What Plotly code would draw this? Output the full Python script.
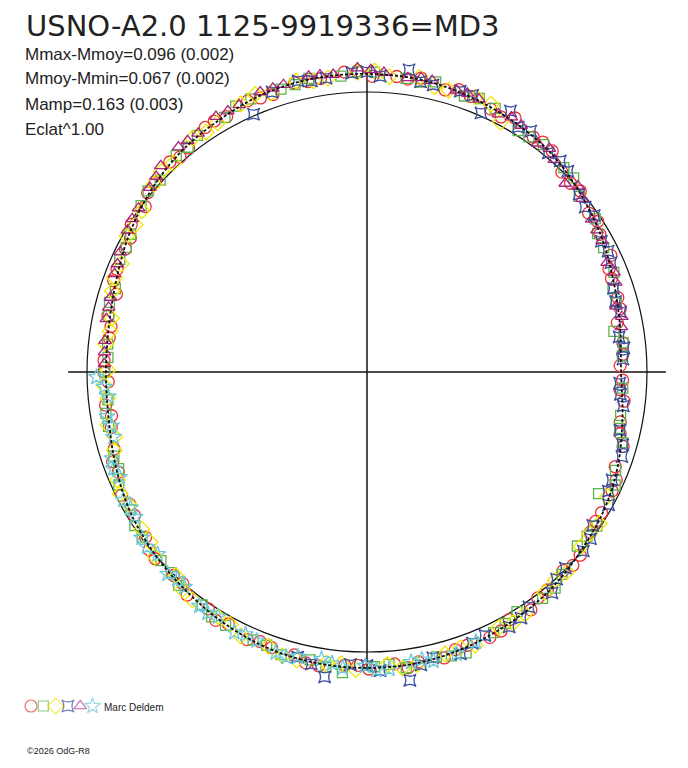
import numpy as np
import plotly.graph_objects as go

# USNO-A2.0 1125-9919336 = MD3, polar light curve (phase -> angle, delta mag -> radius)
title_text = "USNO-A2.0 1125-9919336=MD3"
info_lines = ["Mmax-Mmoy=0.096 (0.002)", "Mmoy-Mmin=0.067 (0.002)",
              "Mamp=0.163 (0.003)", "Eclat^1.00"]
observer = "Marc Deldem"
credit = "\u00a92026 OdG-R8"

R0 = 1.037      # radius of mean magnitude circle (mag units)
AXIS_HALF = 1.107

red_phase = [0.004, 0.018, 0.031, 0.046, 0.058, 0.071, 0.085, 0.099, 0.112, 0.127,
             0.139, 0.152, 0.166, 0.180, 0.193, 0.207, 0.221, 0.234, 0.247, 0.262,
             0.275, 0.289, 0.302, 0.316, 0.330, 0.343, 0.357, 0.370, 0.384, 0.398,
             0.411, 0.425, 0.438, 0.452, 0.466, 0.479, 0.493, 0.506, 0.520, 0.534,
             0.547, 0.561, 0.574, 0.588, 0.602, 0.615, 0.629, 0.642, 0.656, 0.670,
             0.683, 0.697, 0.710, 0.724, 0.738, 0.751, 0.765, 0.778, 0.792, 0.806,
             0.819, 0.833, 0.846, 0.860, 0.874, 0.887, 0.901, 0.914, 0.928, 0.942,
             0.955, 0.969, 0.982, 0.995,
             0.011, 0.039, 0.064, 0.092, 0.119, 0.146, 0.173, 0.200, 0.228, 0.255,
             0.282, 0.309, 0.337, 0.364, 0.391, 0.418, 0.445, 0.472, 0.500, 0.527,
             0.554, 0.581, 0.609, 0.636, 0.663, 0.690, 0.717, 0.745, 0.772, 0.799,
             0.826, 0.853, 0.880, 0.908, 0.935, 0.962, 0.989]
red_dm = [0.099, 0.083, 0.092, 0.068, 0.068, 0.036, 0.035, 0.027, 0.001, 0.003,
          -0.031, -0.029, -0.052, -0.039, -0.053, -0.047, -0.070, -0.063, -0.058, -0.077,
          -0.063, -0.067, -0.048, -0.060, -0.042, -0.049, -0.024, -0.030, -0.016, 0.012,
          0.007, 0.033, 0.036, 0.065, 0.055, 0.074, 0.062, 0.078, 0.061, 0.068,
          0.058, 0.044, 0.020, 0.025, 0.014, -0.009, -0.003, -0.024, -0.019, -0.028,
          -0.049, -0.043, -0.045, -0.066, -0.052, -0.063, -0.049, -0.054, -0.060, -0.041,
          -0.046, -0.021, -0.033, -0.011, 0.003, -0.004, 0.019, 0.024, 0.028, 0.053,
          0.049, 0.081, 0.079, 0.090,
          0.087, 0.070, 0.063, 0.017, 0.009, -0.035, -0.030, -0.063, -0.058, -0.079,
          -0.061, -0.052, -0.051, -0.018, -0.012, 0.030, 0.040, 0.074, 0.062, 0.077,
          0.038, 0.031, -0.004, -0.002, -0.040, -0.037, -0.064, -0.050, -0.069, -0.042,
          -0.043, -0.012, -0.009, 0.025, 0.031, 0.072, 0.098]

green_phase = [0.010, 0.026, 0.043, 0.061, 0.077, 0.094, 0.110, 0.128, 0.145, 0.161,
               0.178, 0.196, 0.213, 0.229, 0.246, 0.264, 0.281, 0.297, 0.314, 0.331,
               0.349, 0.365, 0.381, 0.399, 0.416, 0.432, 0.449, 0.466, 0.483, 0.500,
               0.517, 0.533, 0.551, 0.568, 0.584, 0.601, 0.618, 0.635, 0.652, 0.669,
               0.686, 0.703, 0.719, 0.737, 0.754, 0.771, 0.788, 0.804, 0.822, 0.839,
               0.855, 0.872, 0.890, 0.906, 0.923, 0.940, 0.957, 0.973, 0.990,
               0.018, 0.052, 0.086, 0.120, 0.154, 0.188, 0.221, 0.255, 0.289, 0.323,
               0.357, 0.390, 0.424, 0.458, 0.491, 0.525, 0.559, 0.593, 0.627, 0.660,
               0.694, 0.728, 0.762, 0.796, 0.830, 0.864, 0.898, 0.932, 0.965]
green_dm = [0.089, 0.110, 0.079, 0.051, 0.047, 0.019, 0.017, -0.014, -0.029, -0.018,
            -0.049, -0.047, -0.067, -0.060, -0.074, -0.063, -0.071, -0.058, -0.062, -0.043,
            -0.041, -0.031, -0.008, -0.002, 0.024, 0.031, 0.055, 0.058, 0.071, 0.066,
            0.072, 0.059, 0.049, 0.027, 0.023, 0.003, 0.002, -0.017, -0.020, -0.038,
            -0.041, -0.057, -0.050, -0.080, -0.055, -0.068, -0.049, -0.066, -0.036, -0.010,
            -0.024, -0.004, 0.026, 0.012, 0.068, 0.047, 0.055, 0.084, 0.088,
            0.082, 0.075, 0.041, -0.013, -0.020, -0.058, -0.055, -0.076, -0.060, -0.061,
            -0.027, -0.015, 0.033, 0.049, 0.076, 0.058, 0.050, 0.006, -0.001, -0.037,
            -0.041, -0.067, -0.049, -0.060, -0.026, -0.024, 0.020, 0.027, 0.078]

yellow_phase = [0.172, 0.190, 0.205, 0.222, 0.238, 0.255, 0.271, 0.288, 0.303, 0.320,
                0.336, 0.352, 0.369, 0.385, 0.401, 0.418, 0.434, 0.451, 0.467, 0.483,
                0.499, 0.516, 0.532, 0.548, 0.565, 0.581, 0.597, 0.614, 0.630, 0.646,
                0.663, 0.679, 0.695, 0.712, 0.728, 0.744, 0.761, 0.777, 0.793, 0.810,
                0.826, 0.842, 0.858, 0.875, 0.891, 0.908, 0.924,
                0.181, 0.213, 0.246, 0.279, 0.311, 0.344, 0.377, 0.410, 0.443, 0.475,
                0.508, 0.540, 0.573, 0.606, 0.638, 0.671, 0.704, 0.736, 0.769, 0.802,
                0.834, 0.867, 0.900]
yellow_dm = [-0.012, -0.058, -0.050, -0.071, -0.060, -0.074, -0.061, -0.072, -0.056, -0.060,
             -0.039, -0.043, -0.018, -0.015, 0.012, 0.015, 0.043, 0.047, 0.070, 0.063,
             0.077, 0.072, 0.058, 0.057, 0.030, 0.028, 0.020, -0.004, 0.003, -0.026,
             -0.024, -0.047, -0.042, -0.061, -0.051, -0.066, -0.050, -0.062, -0.047, -0.052,
             -0.028, -0.033, -0.012, -0.010, 0.014, 0.010, 0.034,
             -0.056, -0.049, -0.078, -0.059, -0.071, -0.032, -0.027, 0.020, 0.038, 0.074,
             0.061, 0.072, 0.018, 0.016, -0.020, -0.026, -0.060, -0.048, -0.067, -0.041,
             -0.038, -0.003, 0.018]

blue_phase = [0.712, 0.728, 0.741, 0.757, 0.772, 0.786, 0.801, 0.817, 0.831, 0.846,
              0.861, 0.876, 0.890, 0.905, 0.920, 0.934, 0.949, 0.964, 0.979, 0.993,
              0.008, 0.022, 0.037, 0.052, 0.067, 0.081, 0.096, 0.111, 0.125, 0.140,
              0.155, 0.170, 0.184, 0.199, 0.214, 0.228, 0.243, 0.258, 0.272, 0.287,
              0.302, 0.316,
              0.720, 0.750, 0.779, 0.809, 0.839, 0.868, 0.898, 0.927, 0.956, 0.986,
              0.015, 0.044, 0.074, 0.103, 0.132, 0.162, 0.192, 0.221, 0.250, 0.280]
blue_dm = [-0.050, -0.103, -0.048, -0.070, -0.116, -0.049, -0.063, -0.032, -0.044, -0.020,
           -0.030, 0.004, -0.003, 0.026, 0.016, 0.045, 0.042, 0.076, 0.079, 0.100,
           0.088, 0.094, 0.072, 0.073, 0.047, 0.043, 0.015, 0.012, -0.015, -0.016,
           -0.042, -0.066, -0.011, -0.059, -0.054, -0.093, -0.060, -0.072, -0.062, -0.071,
           -0.058, -0.006,
           -0.064, -0.050, -0.066, -0.040, -0.038, -0.003, 0.004, 0.040, 0.052, 0.095,
           0.081, 0.080, 0.038, 0.024, -0.023, -0.029, -0.060, -0.056, -0.075, -0.061]

purple_phase = [0.028, 0.041, 0.055, 0.068, 0.081, 0.095, 0.108, 0.121, 0.135, 0.148,
                0.161, 0.175, 0.188, 0.201, 0.215, 0.228, 0.241, 0.255, 0.268, 0.281,
                0.295, 0.308, 0.321, 0.335, 0.348, 0.361, 0.375, 0.388, 0.401, 0.415,
                0.428, 0.441, 0.455, 0.468, 0.481, 0.495,
                0.034, 0.061, 0.088, 0.115, 0.141, 0.168, 0.195, 0.221, 0.248, 0.275,
                0.301, 0.328, 0.355, 0.381, 0.408, 0.435, 0.461, 0.488]
purple_dm = [0.080, 0.083, 0.058, 0.060, 0.040, 0.031, 0.014, 0.024, -0.012, -0.020,
             -0.040, -0.035, -0.055, -0.058, -0.069, -0.063, -0.074, -0.089, -0.072, -0.079,
             -0.071, -0.073, -0.060, -0.062, -0.046, -0.050, -0.043, -0.018, -0.004, 0.006,
             0.021, 0.034, 0.048, 0.052, 0.060, 0.064,
             0.071, 0.050, 0.036, -0.004, -0.031, -0.048, -0.060, -0.071, -0.082, -0.076,
             -0.070, -0.058, -0.047, -0.028, -0.001, 0.030, 0.051, 0.062]

cyan_phase = [0.503, 0.515, 0.527, 0.540, 0.552, 0.564, 0.577, 0.589, 0.601, 0.614,
              0.626, 0.638, 0.651, 0.663, 0.675, 0.688, 0.700, 0.712, 0.725, 0.737,
              0.749, 0.762, 0.774, 0.786, 0.799, 0.811,
              0.509, 0.533, 0.558, 0.583, 0.607, 0.632, 0.657, 0.681, 0.706, 0.731,
              0.755, 0.780]
cyan_dm = [0.035, 0.074, 0.060, 0.068, 0.040, 0.041, 0.018, 0.024, 0.001, 0.009,
           -0.014, -0.008, -0.029, -0.024, -0.045, -0.039, -0.056, -0.048, -0.040, -0.063,
           -0.052, -0.066, -0.050, -0.061, -0.058, -0.041,
           0.062, 0.070, 0.032, 0.027, -0.004, -0.003, -0.033, -0.034, -0.060, -0.050,
           -0.068, -0.048]

fit_phase = [0.000, 0.028, 0.056, 0.083, 0.111, 0.139, 0.167, 0.194, 0.222, 0.250,
             0.278, 0.306, 0.333, 0.361, 0.389, 0.417, 0.444, 0.472, 0.500, 0.528,
             0.556, 0.583, 0.611, 0.639, 0.667, 0.694, 0.722, 0.750, 0.778, 0.806,
             0.833, 0.861, 0.889, 0.917, 0.944, 0.972, 1.000]
fit_dm = [0.096, 0.085, 0.064, 0.035, 0.007, -0.022, -0.038, -0.052, -0.064, -0.067,
          -0.068, -0.062, -0.046, -0.031, -0.008, 0.020, 0.048, 0.066, 0.070, 0.065,
          0.044, 0.020, 0.002, -0.014, -0.033, -0.049, -0.057, -0.059, -0.057, -0.046,
          -0.032, -0.017, 0.004, 0.022, 0.046, 0.076, 0.096]

series = [
    ("red", red_phase, red_dm, "circle-open", "#f03030", 12),
    ("green", green_phase, green_dm, "square-open", "#5ab54a", 10),
    ("yellow", yellow_phase, yellow_dm, "diamond-open", "#f2e600", 12),
    ("blue", blue_phase, blue_dm, "star-square-open", "#3a4fa0", 11),
    ("purple", purple_phase, purple_dm, "triangle-up-open", "#a8237f", 11),
    ("cyan", cyan_phase, cyan_dm, "star-open", "#6cc9dc", 12),
]


def to_xy(phase, dm):
    th = 2 * np.pi * np.array(phase)
    r = R0 - np.array(dm)
    return r * np.cos(th), r * np.sin(th)


fig = go.Figure()

for name, ph, dm, sym, col, sz in series:
    x, y = to_xy(ph, dm)
    fig.add_trace(go.Scatter(x=x, y=y, mode="markers", name=name,
                             marker=dict(symbol=sym, size=sz, color=col,
                                         line=dict(width=1.3, color=col))))

fx, fy = to_xy(fit_phase, fit_dm)
fig.add_trace(go.Scatter(x=fx, y=fy, mode="lines", line_shape="spline",
                         line=dict(color="#111111", width=1.8, dash="3px,2px")))

# legend row on its own little axis
fig.add_trace(go.Scatter(x=list(range(len(series))), y=[0] * len(series),
                         mode="markers", xaxis="x2", yaxis="y2",
                         marker=dict(symbol=[s[3] for s in series], size=[s[5] for s in series],
                                     color=[s[4] for s in series],
                                     line=dict(width=1.2, color=[s[4] for s in series]))))

# mean circle and axes
fig.add_shape(type="circle", x0=-R0, x1=R0, y0=-R0, y1=R0,
              line=dict(color="#111111", width=1.2), layer="below")
fig.add_shape(type="line", x0=-AXIS_HALF, x1=AXIS_HALF, y0=0, y1=0,
              line=dict(color="#111111", width=1.5), layer="below")
fig.add_shape(type="line", x0=0, x1=0, y0=-AXIS_HALF, y1=AXIS_HALF,
              line=dict(color="#111111", width=1.5), layer="below")

W, H = 688, 768
OFF = 7          # page offset of the plot in the browser
PX = 270.0
cx, cy = 366 - OFF, 371 - OFF


def px_x(xpx):
    return (xpx - OFF - 2) / W


def py(ypx):
    return 1 - (ypx - OFF) / H


FONT = "Liberation Sans, Arial"
ann = [dict(text=title_text, x=px_x(26), y=1, xanchor="left", yanchor="top", borderpad=0,
            font=dict(size=29, family="DejaVu Sans", color="#222222"))]
for i, t in enumerate(info_lines):
    ann.append(dict(text=t, x=px_x(25), y=py(53 + 25 * i), xanchor="left", yanchor="middle",
                    borderpad=0, font=dict(size=17, family=FONT, color="#222222")))
ann.append(dict(text=observer, x=px_x(103), y=py(706), xanchor="left", yanchor="middle",
                font=dict(size=10, family=FONT, color="#222222")))
ann.append(dict(text=credit, x=px_x(26), y=py(750), xanchor="left", yanchor="middle",
                font=dict(size=9, family=FONT, color="#222222")))
for a in ann:
    a.update(xref="paper", yref="paper", showarrow=False)

lx0, lstep = 30 - OFF, 12.3
fig.update_layout(
    width=W, height=H, margin=dict(l=0, r=0, t=0, b=0),
    paper_bgcolor="white", plot_bgcolor="rgba(0,0,0,0)", showlegend=False,
    annotations=ann,
    xaxis=dict(range=[-cx / PX, (W - cx) / PX], visible=False, fixedrange=True),
    yaxis=dict(range=[-(H - cy) / PX, cy / PX], visible=False, fixedrange=True),
    xaxis2=dict(domain=[0, 1], range=[-lx0 / lstep, (W - lx0) / lstep], visible=False,
                anchor="y2"),
    yaxis2=dict(domain=[0, 2 * (H - (705 - OFF)) / H], range=[-1, 1], visible=False,
                anchor="x2"),
)

fig.write_html("out.html")
